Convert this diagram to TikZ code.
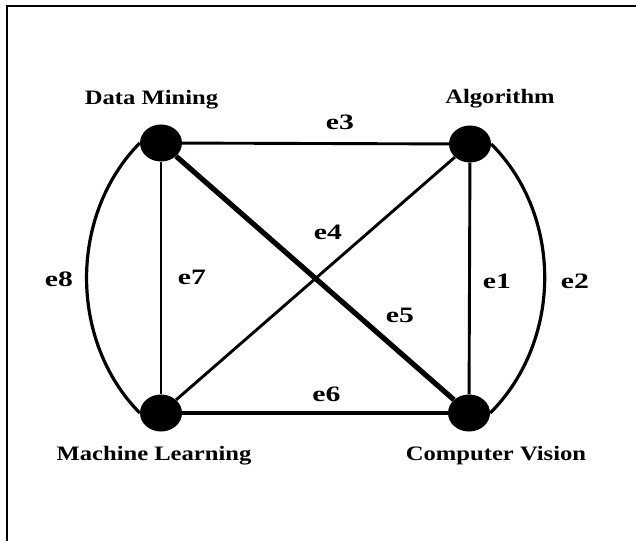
\documentclass[tikz,border=0pt]{standalone}
\usepackage{fontspec}
\setmainfont{Liberation Serif}
\newfontfamily\topicfont[FakeStretch=1.2]{Liberation Serif}
\newfontfamily\edgefont[FakeStretch=1.35]{Liberation Serif}
\usetikzlibrary{shapes.geometric}
\tikzset{
  edgeLine/.style={line width=2.9bp, black},
  arcEdge/.style={line width=3.2bp, black},
  midEdge/.style={line width=3.8bp, black},
  heavyEdge/.style={line width=5.2bp, black},
  frameLine/.style={line width=2.8bp, black},
  topicLabel/.style={
    font=\topicfont\bfseries\fontsize{20.5bp}{21bp}\selectfont,
    anchor=base,
    inner sep=0pt
  },
  edgeLabel/.style={
    font=\edgefont\bfseries\fontsize{22bp}{23bp}\selectfont,
    inner sep=0pt
  }
}

\begin{document}
\begin{tikzpicture}[x=1bp,y=-1bp,
  topic/.style={ellipse, fill=black, minimum width=42bp, minimum height=37bp,
                inner sep=0pt}]
  \useasboundingbox (0,0) rectangle (636,541);
  \draw[frameLine] (7,541) -- (7,6) -- (636,6);

  \node[topic] (dm) at (161,143) {};
  \node[topic] (al) at (470,144) {};
  \node[topic] (ml) at (161,413) {};
  \node[topic] (cv) at (469,413) {};

  % straight edges
  \draw[edgeLine] (dm) -- (al);
  \draw[edgeLine] (al) -- (cv);
  \draw[edgeLine] (dm) -- (ml);
  \draw[edgeLine] (al) -- (ml);
  \draw[heavyEdge] (dm) -- (cv);
  \draw[midEdge] (ml) -- (cv);

  % outer arcs
  \draw[arcEdge] (dm.west) .. controls +(-71,72) and +(-71,-72) .. (ml.west);
  \draw[arcEdge] (al.east) .. controls +(72,72) and +(72,-72) .. (cv.east);

  \node[topicLabel] (dmText) at (151.5,105) {Data Mining};
  \node[topicLabel] (alText) at (500,103.5) {Algorithm};
  \node[topicLabel] (mlText) at (154,460) {Machine Learning};
  \node[topicLabel] (cvText) at (496,460) {Computer Vision};

  \node[edgeLabel] (e1) at (497,281) {e1};
  \node[edgeLabel] (e2) at (575,281) {e2};
  \node[edgeLabel] (e3) at (340,122.5) {e3};
  \node[edgeLabel] (e4) at (328,232) {e4};
  \node[edgeLabel] (e5) at (400,315.5) {e5};
  \node[edgeLabel] (e6) at (326.5,394.5) {e6};
  \node[edgeLabel] (e7) at (192,277) {e7};
  \node[edgeLabel] (e8) at (59,279) {e8};
\end{tikzpicture}
\end{document}
